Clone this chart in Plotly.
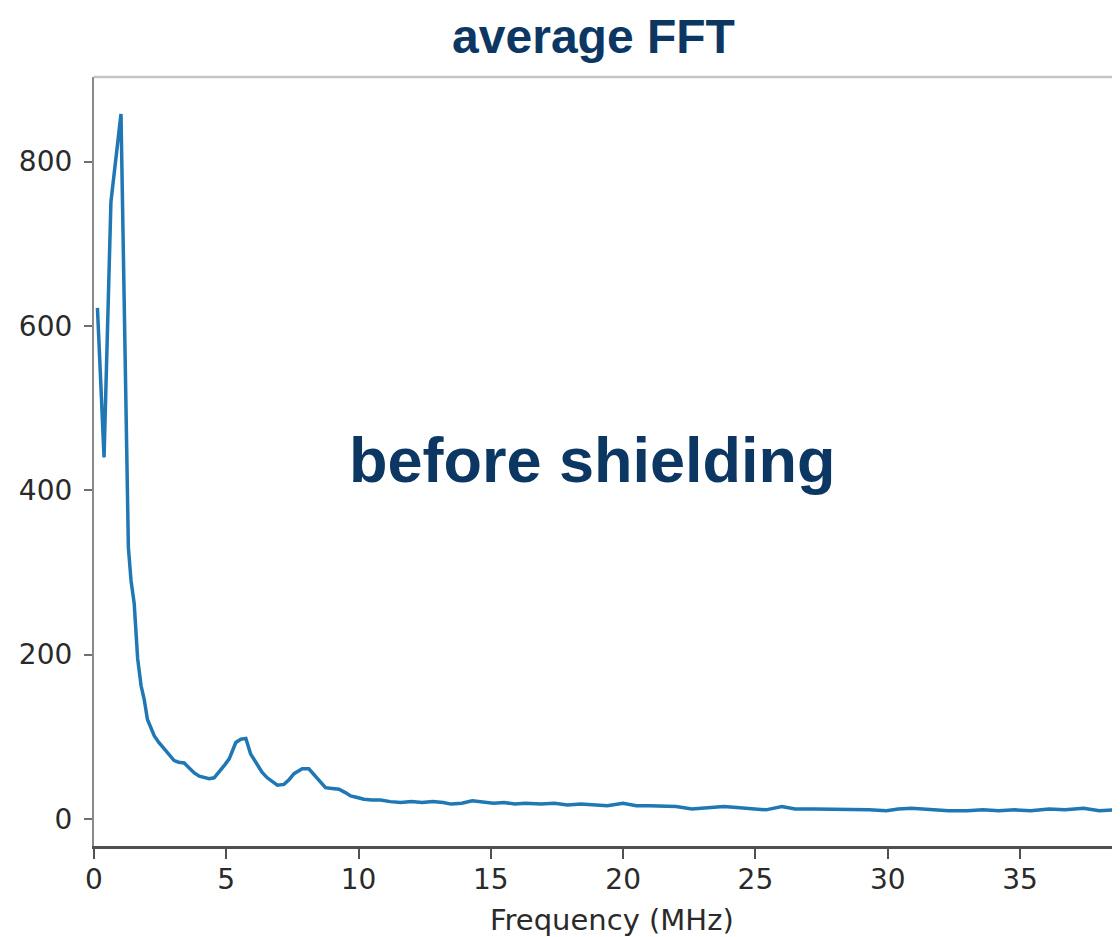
import plotly.graph_objects as go

# Frequency (MHz) and average FFT amplitude
freq = [0.13, 0.38, 0.64, 1.02, 1.30, 1.40, 1.52, 1.65, 1.78, 1.90, 2.02, 2.15, 2.28,
        2.45, 2.65, 2.85, 3.03, 3.20, 3.41, 3.60, 3.79, 3.98, 4.16, 4.35, 4.54, 4.79,
        4.95, 5.11, 5.25, 5.36, 5.55, 5.74, 5.92, 6.05, 6.18, 6.35, 6.55, 6.75, 6.93,
        7.18, 7.38, 7.56, 7.72, 7.87, 8.12, 8.28, 8.44, 8.60, 8.75, 9.00, 9.26, 9.50,
        9.70, 9.95, 10.2, 10.5, 10.83, 11.2, 11.6, 12.0, 12.4, 12.8, 13.2, 13.5, 13.9,
        14.3, 14.7, 15.1, 15.5, 15.9, 16.3, 16.9, 17.4, 17.9, 18.4, 18.9, 19.4, 20.0,
        20.5, 21.0, 21.5, 22.0, 22.6, 23.2, 23.8, 24.3, 24.8, 25.4, 26.0, 26.5, 27.2,
        27.8, 28.6, 29.3, 29.95, 30.4, 30.9, 31.5, 32.3, 33.0, 33.6, 34.2, 34.8, 35.4,
        36.1, 36.7, 37.4, 38.0, 38.6, 39.2]
amplitude = [622, 440, 751, 858, 330, 290, 262, 195, 162, 145, 121, 110, 101,
             93, 85, 78, 71, 69, 68, 62, 56, 52, 50, 49, 50, 59,
             66, 73, 84, 93, 97, 98, 79, 72, 65, 57, 50, 45, 41,
             42, 48, 55, 58, 61, 61, 55, 48, 43, 38, 37, 36, 32,
             28, 26, 24, 23, 23, 21, 20, 21, 20, 21, 20, 18, 19,
             22, 20, 19, 20, 18, 19, 18, 19, 17, 18, 17, 16, 19,
             16, 16, 15, 15, 12, 14, 15, 14, 13, 11, 15, 12, 12,
             12, 12, 11, 10, 12, 13, 12, 10, 10, 11, 10, 11, 10,
             12, 11, 13, 10, 11, 10]

x_ticks = [0, 5, 10, 15, 20, 25, 30, 35]
y_ticks = [0, 200, 400, 600, 800]

title_text = "average FFT"
annotation_text = "before shielding"
x_title = "Frequency (MHz)"

navy = "#0d3763"
tick_font = dict(family="DejaVu Sans", size=28, color="#2a2a2a")

# page has an 8px body margin; figure is sized/placed to compensate
W, H = 1112, 929

fig = go.Figure()
fig.add_trace(go.Scatter(x=freq, y=amplitude, mode="lines",
                         line=dict(color="#1f77b4", width=3.5),
                         showlegend=False, hoverinfo="skip"))

fig.update_layout(
    width=W, height=H,
    margin=dict(l=86, r=0, t=69, b=91),
    paper_bgcolor="white", plot_bgcolor="white",
    title=dict(text=f"<b>{title_text}</b>", x=585.5 / W, xref="container",
               xanchor="center", y=1 - 28 / H, yref="container", yanchor="middle",
               font=dict(family="Liberation Sans", size=48, color=navy)),
    xaxis=dict(range=[0, 38.78], tickvals=x_ticks, ticktext=[str(t) for t in x_ticks],
               showgrid=False, zeroline=False, showline=True, linecolor="#505050",
               linewidth=2.5, ticks="outside", ticklen=10, tickwidth=2.2,
               tickcolor="#505050", tickfont=tick_font, ticklabelstandoff=-3),
    yaxis=dict(range=[-33, 903], tickvals=y_ticks, ticktext=[str(t) for t in y_ticks],
               showgrid=False, zeroline=False, showline=True, linecolor="#8a8a8a",
               linewidth=2.2, ticks="outside", ticklen=8, tickwidth=2.2,
               tickcolor="#707070", tickfont=tick_font, ticklabelstandoff=6),
    shapes=[dict(type="line", xref="paper", yref="paper", x0=0, x1=1, y0=1, y1=1,
                 line=dict(color="#c4c4c4", width=2.5))],
    annotations=[
        dict(text=f"<b>{annotation_text}</b>", xref="paper", yref="paper",
             x=(592.5 - 94) / 1026, y=(846 - 460) / 769, xanchor="center",
             yanchor="middle", showarrow=False,
             font=dict(family="Liberation Sans", size=63, color=navy)),
        dict(text=x_title, xref="paper", yref="paper",
             x=(611.5 - 94) / 1026, y=(846 - 920) / 769, xanchor="center",
             yanchor="middle", showarrow=False,
             font=dict(family="DejaVu Sans", size=29, color="#2a2a2a")),
    ],
)

fig.write_html("out.html")
